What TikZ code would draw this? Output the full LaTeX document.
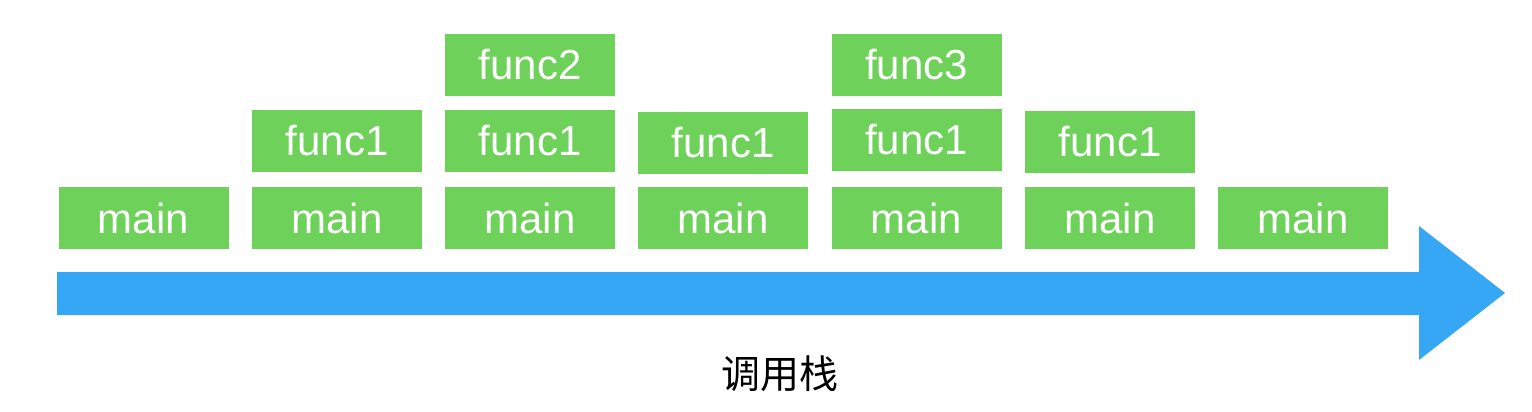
\documentclass[tikz,border=0pt]{standalone}
\usepackage{fontspec}
\setmainfont{Liberation Sans}
\newfontfamily\cjk{Noto Sans CJK SC}
\definecolor{boxgreen}{RGB}{110,210,90}
\definecolor{arrowblue}{RGB}{54,167,245}
\begin{document}
\begin{tikzpicture}[x=1pt,y=-1pt,
  frame/.style={fill=boxgreen,draw=none,minimum width=170pt,minimum height=62pt,inner sep=0pt,
    text=white,font=\fontsize{42}{42}\selectfont}]
\useasboundingbox (0,0) rectangle (1532,412);
% arrow
\fill[arrowblue] (57,272) -- (1419,272) -- (1419,226) -- (1505,293) -- (1419,360) -- (1419,315) -- (57,315) -- cycle;
% column 1
\node[frame] (m1) at (143.5,218) {main};
% column 2
\node[frame] (m2) at (337,218) {main};
\node[frame] (f12) at (337,141) {func1};
% column 3
\node[frame] (m3) at (530,218) {main};
\node[frame] (f13) at (530,141) {func1};
\node[frame] (f23) at (530,65) {func2};
% column 4
\node[frame] (m4) at (723,218) {main};
\node[frame] (f14) at (723,142.5) {func1};
% column 5
\node[frame] (m5) at (916.5,218) {main};
\node[frame] (f15) at (916.5,140) {func1};
\node[frame] (f35) at (916.5,65) {func3};
% column 6
\node[frame] (m6) at (1110,218) {main};
\node[frame] (f16) at (1110,141.5) {func1};
% column 7
\node[frame] (m7) at (1303,218) {main};
% label
\node[font=\cjk\fontsize{39}{39}\selectfont,inner sep=0pt] (lbl) at (780,374) {调用栈};
\end{tikzpicture}
\end{document}
